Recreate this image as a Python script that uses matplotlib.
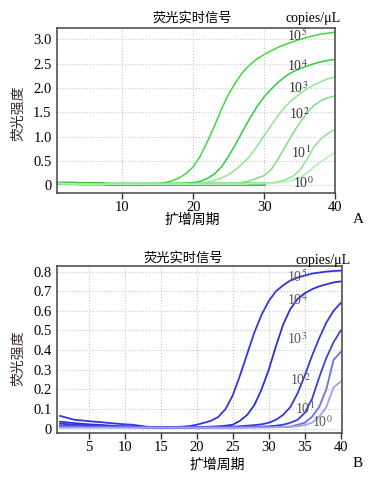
import matplotlib
matplotlib.use('Agg')
import matplotlib.pyplot as plt

plt.rcParams['font.family'] = ['Liberation Serif', 'DejaVu Sans']
plt.rcParams['mathtext.fontset'] = 'stix'
cjk = ['Noto Sans CJK SC', 'DejaVu Sans']

cycles = list(range(1, 41))
labels = ['10$^5$', '10$^4$', '10$^3$', '10$^2$', '10$^1$', '10$^0$']

# panel A (green), fluorescence per cycle
a_e5 = [0.05, 0.04, 0.04, 0.03, 0.03, 0.03, 0.03, 0.03, 0.02, 0.02,
        0.02, 0.02, 0.02, 0.02, 0.03, 0.05, 0.09, 0.15, 0.24, 0.38,
        0.6, 0.9, 1.22, 1.57, 1.88, 2.12, 2.33, 2.48, 2.6, 2.69,
        2.77, 2.84, 2.9, 2.95, 3.0, 3.04, 3.08, 3.11, 3.13, 3.15]
a_e4 = [0.04, 0.04, 0.03, 0.03, 0.03, 0.03, 0.02, 0.02, 0.02, 0.02,
        0.02, 0.02, 0.02, 0.02, 0.02, 0.02, 0.02, 0.03, 0.04, 0.05,
        0.08, 0.14, 0.23, 0.38, 0.6, 0.85, 1.12, 1.38, 1.62, 1.82,
        1.98, 2.12, 2.24, 2.33, 2.4, 2.45, 2.5, 2.54, 2.57, 2.59]
a_e3 = [0.04, 0.03, 0.03, 0.03, 0.03, 0.02, 0.02, 0.02, 0.02, 0.02,
        0.02, 0.02, 0.02, 0.02, 0.02, 0.02, 0.02, 0.02, 0.03, 0.03,
        0.04, 0.06, 0.1, 0.15, 0.22, 0.32, 0.45, 0.6, 0.8, 1.02,
        1.23, 1.44, 1.62, 1.76, 1.88, 1.98, 2.06, 2.13, 2.19, 2.23]
a_e2 = [0.04, 0.03, 0.03, 0.03, 0.03, 0.02, 0.02, 0.02, 0.02, 0.02,
        0.02, 0.02, 0.02, 0.02, 0.02, 0.02, 0.02, 0.02, 0.02, 0.02,
        0.02, 0.02, 0.03, 0.03, 0.03, 0.04, 0.06, 0.09, 0.14, 0.2,
        0.32, 0.55, 0.8, 1.05, 1.28, 1.48, 1.64, 1.74, 1.8, 1.84]
a_e1 = [0.03, 0.03, 0.03, 0.03, 0.02, 0.02, 0.02, 0.02, 0.02, 0.02,
        0.02, 0.02, 0.02, 0.02, 0.02, 0.02, 0.02, 0.02, 0.02, 0.02,
        0.02, 0.02, 0.02, 0.02, 0.02, 0.03, 0.03, 0.03, 0.03, 0.04,
        0.05, 0.07, 0.11, 0.18, 0.3, 0.52, 0.78, 0.95, 1.07, 1.15]
a_e0 = [0.03, 0.03, 0.03, 0.02, 0.02, 0.02, 0.02, 0.02, 0.02, 0.02,
        0.02, 0.02, 0.02, 0.02, 0.02, 0.02, 0.02, 0.02, 0.02, 0.02,
        0.02, 0.02, 0.02, 0.02, 0.02, 0.02, 0.02, 0.03, 0.03, 0.03,
        0.04, 0.05, 0.07, 0.1, 0.15, 0.25, 0.37, 0.48, 0.58, 0.67]
a_ntc = [0.04, 0.04, 0.04, 0.03, 0.03, 0.03, 0.03, 0.02, 0.02, 0.02,
         0.02, 0.02, 0.02, 0.02, 0.02, 0.02, 0.02, 0.02, 0.02, 0.02,
         0.02, 0.02, 0.02, 0.02, 0.02, 0.02, 0.02, 0.02, 0.02, 0.02]

# panel B (blue)
b_e5 = [0.065, 0.055, 0.045, 0.042, 0.038, 0.035, 0.032, 0.028, 0.025, 0.022,
        0.02, 0.015, 0.01, 0.008, 0.007, 0.007, 0.008, 0.01, 0.013, 0.02,
        0.03, 0.04, 0.06, 0.1, 0.17, 0.27, 0.38, 0.49, 0.58, 0.65,
        0.7, 0.73, 0.755, 0.77, 0.78, 0.79, 0.795, 0.8, 0.803, 0.805]
b_e4 = [0.035, 0.032, 0.028, 0.025, 0.022, 0.02, 0.018, 0.015, 0.013, 0.012,
        0.011, 0.009, 0.007, 0.006, 0.006, 0.006, 0.006, 0.007, 0.007, 0.008,
        0.009, 0.01, 0.012, 0.015, 0.02, 0.04, 0.07, 0.12, 0.2, 0.3,
        0.42, 0.53, 0.61, 0.66, 0.69, 0.71, 0.725, 0.735, 0.745, 0.75]
b_e3 = [0.025, 0.023, 0.02, 0.018, 0.016, 0.015, 0.013, 0.012, 0.011, 0.01,
        0.009, 0.008, 0.006, 0.006, 0.006, 0.006, 0.006, 0.006, 0.006, 0.007,
        0.007, 0.008, 0.008, 0.009, 0.01, 0.012, 0.015, 0.018, 0.022, 0.03,
        0.045, 0.07, 0.11, 0.18, 0.27, 0.37, 0.46, 0.54, 0.6, 0.64]
b_e2 = [0.015, 0.014, 0.013, 0.012, 0.011, 0.01, 0.01, 0.009, 0.009, 0.008,
        0.008, 0.007, 0.006, 0.006, 0.006, 0.006, 0.006, 0.006, 0.006, 0.006,
        0.006, 0.006, 0.007, 0.007, 0.007, 0.008, 0.008, 0.009, 0.01, 0.012,
        0.015, 0.02, 0.03, 0.045, 0.08, 0.15, 0.26, 0.36, 0.44, 0.5]
b_e1 = [0.01, 0.01, 0.009, 0.009, 0.008, 0.008, 0.008, 0.007, 0.007, 0.007,
        0.006, 0.006, 0.006, 0.006, 0.006, 0.006, 0.006, 0.006, 0.006, 0.006,
        0.006, 0.006, 0.006, 0.006, 0.006, 0.006, 0.007, 0.007, 0.007, 0.008,
        0.008, 0.009, 0.01, 0.02, 0.03, 0.06, 0.11, 0.2, 0.35, 0.39]
b_e0 = [0.005, 0.005, 0.005, 0.005, 0.005, 0.005, 0.005, 0.005, 0.005, 0.005,
        0.005, 0.005, 0.005, 0.005, 0.005, 0.005, 0.005, 0.005, 0.005, 0.005,
        0.005, 0.005, 0.005, 0.005, 0.005, 0.005, 0.005, 0.006, 0.006, 0.006,
        0.007, 0.008, 0.01, 0.012, 0.018, 0.03, 0.06, 0.11, 0.21, 0.24]

a_series = [a_e5, a_e4, a_e3, a_e2, a_e1, a_e0]
b_series = [b_e5, b_e4, b_e3, b_e2, b_e1, b_e0]
a_colors = ['#3ddc3d', '#2ecc40', '#8fe88f', '#7fe07f', '#8fe68f', '#b0f0b0']
b_colors = ['#3434e6', '#3030dc', '#3838dc', '#3f3fe0', '#6e6eea', '#a0a0f0']

# label positions (cycle, value)
a_lab_x = [34.7, 34.75, 34.8, 35.0, 35.2, 35.5]
a_lab_y = [3.08, 2.45, 2.0, 1.46, 0.66, 0.04]
b_lab_x = [34.0, 34.0, 34.0, 34.4, 35.1, 37.5]
b_lab_y = [0.775, 0.655, 0.455, 0.247, 0.10, 0.034]

fig = plt.figure(figsize=(3.76, 4.8), dpi=100)
axA = fig.add_axes([0.152, 0.598, 0.739, 0.344])
axB = fig.add_axes([0.152, 0.098, 0.758, 0.348])

axA.plot(cycles[:len(a_ntc)], a_ntc, color='#22c022', lw=2.4)
for vals, c in zip(a_series, a_colors):
    axA.plot(cycles, vals, color=c, lw=1.1)
for vals, c in zip(b_series, b_colors):
    axB.plot(cycles, vals, color=c, lw=1.3)

for x, y, t in zip(a_lab_x, a_lab_y, labels):
    axA.text(x, y, t, fontsize=10, color='#333333', ha='center', va='center')
for x, y, t in zip(b_lab_x, b_lab_y, labels):
    axB.text(x, y, t, fontsize=10, color='#555555', ha='center', va='center')

axA.set_xlim(0.8, 40)
axA.set_ylim(-0.16, 3.24)
axA.set_xticks([10, 20, 30, 40])
axA.set_yticks([0, 0.5, 1.0, 1.5, 2.0, 2.5, 3.0])
axA.set_yticklabels(['0', '0.5', '1.0', '1.5', '2.0', '2.5', '3.0'])

axB.set_xlim(0.6, 40.2)
axB.set_ylim(-0.022, 0.829)
axB.set_xticks([5, 10, 15, 20, 25, 30, 35, 40])
axB.set_yticks([0, 0.1, 0.2, 0.3, 0.4, 0.5, 0.6, 0.7, 0.8])
axB.set_yticklabels(['0', '0.1', '0.2', '0.3', '0.4', '0.5', '0.6', '0.7', '0.8'])

for ax in (axA, axB):
    ax.grid(True, linestyle=':', color='#c8c8c8', lw=0.8)
    ax.tick_params(axis='x', length=4, width=1, labelsize=10.5, pad=2, color='#333333')
    ax.tick_params(axis='y', length=0, labelsize=10.5, pad=4)
    for s in ax.spines.values():
        s.set_color('#444444')
        s.set_linewidth(1.1)

# texts around the panels
fig.text(0.511, 0.9625, '荧光实时信号', family=cjk, fontsize=9.5, ha='center', va='center')
fig.text(0.487, 0.4625, '荧光实时信号', family=cjk, fontsize=9.5, ha='center', va='center')
fig.text(0.832, 0.962, 'copies/μL', fontsize=10, ha='center', va='center')
fig.text(0.859, 0.458, 'copies/μL', fontsize=10, ha='center', va='center')
fig.text(0.048, 0.765, '荧光强度', family=cjk, fontsize=10, rotation=90, ha='center', va='center', color='#3a2a2a')
fig.text(0.048, 0.254, '荧光强度', family=cjk, fontsize=10, rotation=90, ha='center', va='center', color='#3a2a2a')
fig.text(0.511, 0.542, '扩增周期', family=cjk, fontsize=10, ha='center', va='center')
fig.text(0.577, 0.031, '扩增周期', family=cjk, fontsize=10, ha='center', va='center')
fig.text(0.952, 0.542, 'A', fontsize=11, ha='center', va='center')
fig.text(0.952, 0.035, 'B', fontsize=11, ha='center', va='center')

fig.savefig('out.png', dpi=100, facecolor='white')
